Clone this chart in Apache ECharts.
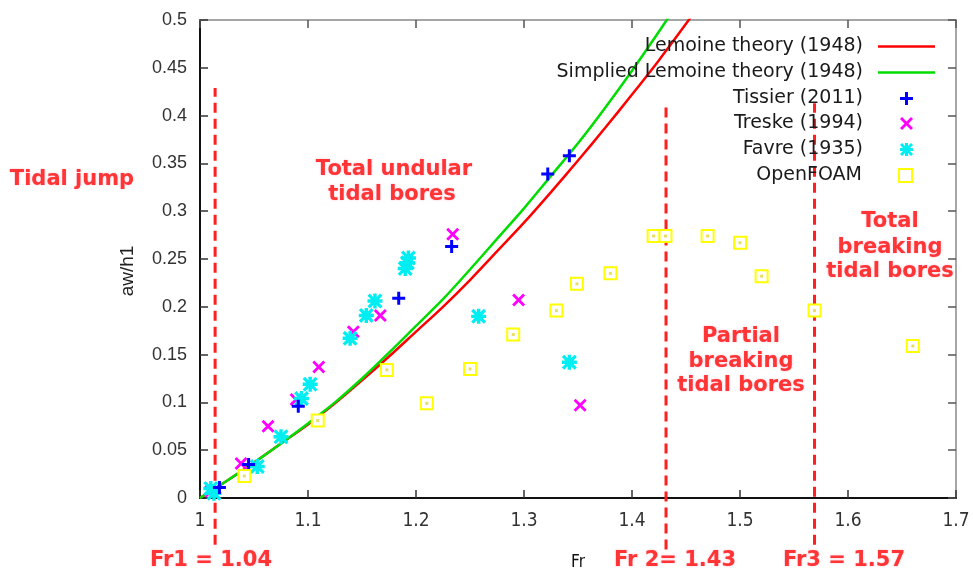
<!DOCTYPE html>
<html>
<head>
<meta charset="utf-8">
<script src="https://cdn.jsdelivr.net/npm/echarts@6/dist/echarts.min.js"></script>
<style>
  html, body { margin: 0; padding: 0; background: #fff; }
  #chart { width: 973px; height: 574px; }
</style>
</head>
<body>
<div id="chart"></div>
<script>
  // 理论曲线 (Fr, aw/h1)
  var lemoineFr  = [1.0, 1.025, 1.05, 1.075, 1.1, 1.125, 1.15, 1.175, 1.2, 1.225, 1.25, 1.275, 1.3, 1.325, 1.35, 1.375, 1.4, 1.425, 1.45, 1.475];
  var lemoineAw  = [0, 0.018, 0.037, 0.057, 0.077, 0.099, 0.123, 0.148, 0.174, 0.200, 0.228, 0.258, 0.288, 0.320, 0.353, 0.387, 0.422, 0.458, 0.496, 0.535];
  var simpleFr   = [1.0, 1.025, 1.05, 1.075, 1.1, 1.125, 1.15, 1.175, 1.2, 1.225, 1.25, 1.275, 1.3, 1.325, 1.35, 1.375, 1.4, 1.425, 1.45];
  var simpleAw   = [0, 0.018, 0.037, 0.057, 0.078, 0.100, 0.125, 0.152, 0.180, 0.208, 0.239, 0.271, 0.303, 0.337, 0.371, 0.408, 0.447, 0.488, 0.530];

  // 实验 / 数值点
  var tissierFr  = [1.018, 1.045, 1.091, 1.184, 1.233, 1.322, 1.342];
  var tissierAw  = [0.011, 0.035, 0.096, 0.209, 0.263, 0.339, 0.358];
  var treskeFr   = [1.010, 1.038, 1.063, 1.089, 1.110, 1.142, 1.167, 1.234, 1.295, 1.352];
  var treskeAw   = [0.007, 0.036, 0.075, 0.103, 0.137, 0.174, 0.191, 0.276, 0.207, 0.097];
  var favreFr    = [1.010, 1.013, 1.053, 1.075, 1.094, 1.102, 1.139, 1.154, 1.162, 1.190, 1.192, 1.193, 1.258, 1.342];
  var favreAw    = [0.010, 0.005, 0.033, 0.064, 0.104, 0.119, 0.167, 0.191, 0.206, 0.240, 0.246, 0.251, 0.190, 0.142];
  var foamFr     = [1.041, 1.109, 1.173, 1.210, 1.250, 1.290, 1.330, 1.349, 1.380, 1.420, 1.431, 1.470, 1.500, 1.520, 1.569, 1.660];
  var foamAw     = [0.023, 0.081, 0.134, 0.099, 0.135, 0.171, 0.196, 0.224, 0.235, 0.274, 0.274, 0.274, 0.267, 0.232, 0.196, 0.159];

  // 分区虚线 Fr1 / Fr2 / Fr3
  var limitFr    = [1.014, 1.4315, 1.569];
  var limitLow   = [-0.049, -0.054, -0.049];
  var limitHigh  = [0.429, 0.413, 0.413];

  var seriesNames = ['Lemoine theory (1948)', 'Simplied Lemoine theory (1948)', 'Tissier (2011)', 'Treske (1994)', 'Favre (1935)', 'OpenFOAM'];

  function zip(xs, ys) {
    return xs.map(function (x, i) { return [x, ys[i]]; });
  }

  var plusPath  = 'path://M5,0H8V5H13V8H8V13H5V8H0V5H5Z';
  var crossPath = 'path://M0,2L2,0L6.5,4.5L11,0L13,2L8.5,6.5L13,11L11,13L6.5,8.5L2,13L0,11L4.5,6.5Z';
  var starPath  = 'path://M5,0H8V5H13V8H8V13H5V8H0V5H5Z M0,2L2,0L6.5,4.5L11,0L13,2L8.5,6.5L13,11L11,13L6.5,8.5L2,13L0,11L4.5,6.5Z';
  var linePath  = 'path://M0,0H57V2.5H0Z';

  var labelFont = "'Liberation Sans', Arial, sans-serif";
  var narrowFont = "'Liberation Sans Narrow', 'DejaVu Sans Condensed', 'Liberation Sans', sans-serif";

  function redLabel(x, y, text) {
    return {
      type: 'text', x: x, y: y, z: 10,
      style: {
        text: text,
        fill: '#ff3535',
        font: 'bold 21px "DejaVu Sans", sans-serif',
        align: 'center',
        verticalAlign: 'middle',
        textShadowColor: 'rgba(255,120,160,0.55)',
        textShadowBlur: 2
      }
    };
  }

  var legendTops = [37, 63, 89, 114, 140, 166];
  var legendText = { fontFamily: '"DejaVu Sans", sans-serif', fontSize: 19, color: '#1a1a1a' };
  var legends = seriesNames.map(function (name, i) {
    var isLine = i < 2;
    var item = isLine ? { name: name, icon: linePath } : { name: name };
    if (i === 5) item.itemStyle = { color: '#ffff00', borderColor: '#ffff00', borderWidth: 3 };
    return {
      data: [item],
      right: isLine ? 38 : 60,
      top: legendTops[i],
      align: 'right',
      padding: 0,
      itemWidth: isLine ? 57 : 13,
      itemHeight: 13,
      selectedMode: false,
      textStyle: Object.assign({ padding: [0, isLine ? 10 : 32, 0, 0] }, legendText)
    };
  });

  var dashSeries = limitFr.map(function (fr, i) {
    return {
      type: 'line',
      data: [[fr, limitLow[i]], [fr, limitHigh[i]]],
      symbol: 'none',
      clip: false,
      silent: true,
      lineStyle: { color: '#ff1f1f', width: 3, type: [10, 6] },
      z: 1
    };
  });

  var option = {
    backgroundColor: '#fff',
    animation: false,
    legend: legends,
    grid: { left: 200, right: 17, top: 20, bottom: 76 },
    xAxis: [
      {
        type: 'value', min: 1, max: 1.7, interval: 0.1,
        axisLine: { onZero: false, lineStyle: { color: '#111', width: 2 } },
        axisTick: { inside: true, length: 8, lineStyle: { color: '#333', width: 1.5 } },
        axisLabel: { margin: 14, fontFamily: narrowFont, fontSize: 19, color: '#333' },
        splitLine: { show: false }
      },
      {
        type: 'value', min: 1, max: 1.7, interval: 0.1, position: 'top',
        axisLine: { show: true, onZero: false, lineStyle: { color: '#888', width: 1.5 } },
        axisTick: { inside: true, length: 8, lineStyle: { color: '#555', width: 1.5 } },
        axisLabel: { show: false },
        splitLine: { show: false }
      }
    ],
    yAxis: [
      {
        type: 'value', min: 0, max: 0.5, interval: 0.05,
        axisLine: { show: true, onZero: false, lineStyle: { color: '#111', width: 2 } },
        axisTick: { show: true, inside: true, length: 8, lineStyle: { color: '#333', width: 1.5 } },
        axisLabel: { margin: 13, fontFamily: labelFont, fontSize: 18, color: '#333' },
        splitLine: { show: false }
      },
      {
        type: 'value', min: 0, max: 0.5, interval: 0.05, position: 'right',
        axisLine: { show: true, onZero: false, lineStyle: { color: '#888', width: 1.5 } },
        axisTick: { show: true, inside: true, length: 8, lineStyle: { color: '#555', width: 1.5 } },
        axisLabel: { show: false },
        splitLine: { show: false }
      }
    ],
    graphic: [
      redLabel(72, 180, 'Tidal jump'),
      redLabel(394, 170, 'Total undular'),
      redLabel(392, 195, 'tidal bores'),
      redLabel(741, 337, 'Partial'),
      redLabel(741, 362, 'breaking'),
      redLabel(741, 386, 'tidal bores'),
      redLabel(890, 222, 'Total'),
      redLabel(890, 248, 'breaking'),
      redLabel(890, 272, 'tidal bores'),
      redLabel(211, 561, 'Fr1 = 1.04'),
      redLabel(675, 561, 'Fr 2= 1.43'),
      redLabel(844, 561, 'Fr3 = 1.57'),
      { type: 'text', x: 578, y: 563, style: { text: 'Fr', fill: '#111', font: '17px ' + narrowFont, align: 'center', verticalAlign: 'middle' } },
      { type: 'text', x: 128, y: 271, rotation: Math.PI / 2, style: { text: 'aw/h1', fill: '#222', font: '19px ' + labelFont, align: 'center', verticalAlign: 'middle' } }
    ],
    series: dashSeries.concat([
      {
        name: seriesNames[0], type: 'line', data: zip(lemoineFr, lemoineAw),
        symbol: 'none', smooth: 0.3, clip: true,
        lineStyle: { color: '#ff0000', width: 2.5 }, itemStyle: { color: '#ff0000' }, z: 2
      },
      {
        name: seriesNames[1], type: 'line', data: zip(simpleFr, simpleAw),
        symbol: 'none', smooth: 0.3, clip: true,
        lineStyle: { color: '#00dd00', width: 2.5 }, itemStyle: { color: '#00dd00' }, z: 2
      },
      {
        name: seriesNames[2], type: 'scatter', data: zip(tissierFr, tissierAw),
        symbol: plusPath, symbolSize: 13, itemStyle: { color: '#0000ff', opacity: 1 }, z: 4
      },
      {
        name: seriesNames[3], type: 'scatter', data: zip(treskeFr, treskeAw),
        symbol: crossPath, symbolSize: 13, itemStyle: { color: '#ff00ff', opacity: 1 }, z: 3
      },
      {
        name: seriesNames[4], type: 'scatter', data: zip(favreFr, favreAw),
        symbol: starPath, symbolSize: 15, itemStyle: { color: '#00eef2', opacity: 1 }, z: 3
      },
      {
        name: seriesNames[5], type: 'scatter', data: zip(foamFr, foamAw),
        symbol: 'emptyRect', symbolSize: 12, itemStyle: { color: '#ffff00', borderWidth: 3, opacity: 1 }, z: 5
      },
      {
        type: 'scatter', data: zip(foamFr, foamAw), silent: true,
        symbol: 'rect', symbolSize: 3, itemStyle: { color: '#e8e060', opacity: 1 }, z: 6
      }
    ])
  };

  var chart = echarts.init(document.getElementById('chart'));
  chart.setOption(option);
  window.onresize = chart.resize;
</script>
</body>
</html>
